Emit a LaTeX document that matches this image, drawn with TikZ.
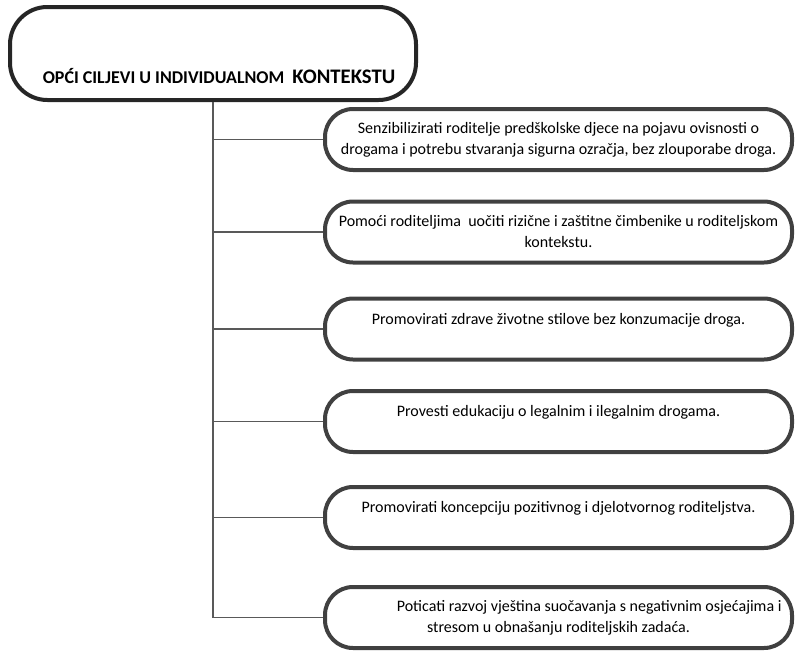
\documentclass[tikz,border=0pt]{standalone}
\usepackage{fontspec}
\setmainfont{Carlito}
\begin{document}
\begin{tikzpicture}[x=0.75pt,y=-0.75pt,
  goalbox/.style={draw=boxgray,line width=3pt,rounded corners=21pt,
    minimum width=350.25pt,minimum height=45.75pt,inner sep=0pt,align=center,
    font=\fontsize{12}{15.75}\selectfont},
  titlebox/.style={draw=titlegray,line width=3pt,rounded corners=28pt,
    minimum width=304.5pt,minimum height=69.75pt,inner sep=0pt},
  link/.style={draw=linkgray,line width=1.1pt}]
\definecolor{boxgray}{HTML}{404040}
\definecolor{titlegray}{HTML}{262626}
\definecolor{linkgray}{HTML}{595959}
\useasboundingbox (0,0) rectangle (796,653);
\node[titlebox] (top) at (213,53.5) {};
\node[font=\bfseries\fontsize{13.5}{16}\selectfont] (title) at (219,76) {OPĆI CILJEVI U INDIVIDUALNOM\ \ {\fontsize{15.5}{16}\selectfont KONTEKSTU}};
\node[goalbox] (b1) at (558.5,139.5) {Senzibilizirati roditelje predškolske djece na pojavu ovisnosti o\\drogama i potrebu stvaranja sigurna ozračja, bez zlouporabe droga.};
\node[goalbox] (b2) at (558.5,232) {Pomoći roditeljima\ \ uočiti rizične i zaštitne čimbenike u roditeljskom\\kontekstu.};
\node[goalbox] (b3) at (558.5,329) {Promovirati zdrave životne stilove bez konzumacije droga.\\\mbox{}};
\node[goalbox] (b4) at (558.5,421.5) {Provesti edukaciju o legalnim i ilegalnim drogama.\\\mbox{}};
\node[goalbox] (b5) at (558.5,517.5) {Promovirati koncepciju pozitivnog i djelotvornog roditeljstva.\\\mbox{}};
\node[goalbox] (b6) at (558.5,617.5) {\hspace*{46pt}Poticati razvoj vještina suočavanja s negativnim osjećajima i\\stresom u obnašanju roditeljskih zadaća.};
\draw[link] (top.south) -- (top.south |- b6.west) -- (b6.west);
\foreach \b in {b1,b2,b3,b4,b5}{\draw[link] (top.south |- \b.west) -- (\b.west);}
\end{tikzpicture}
\end{document}
